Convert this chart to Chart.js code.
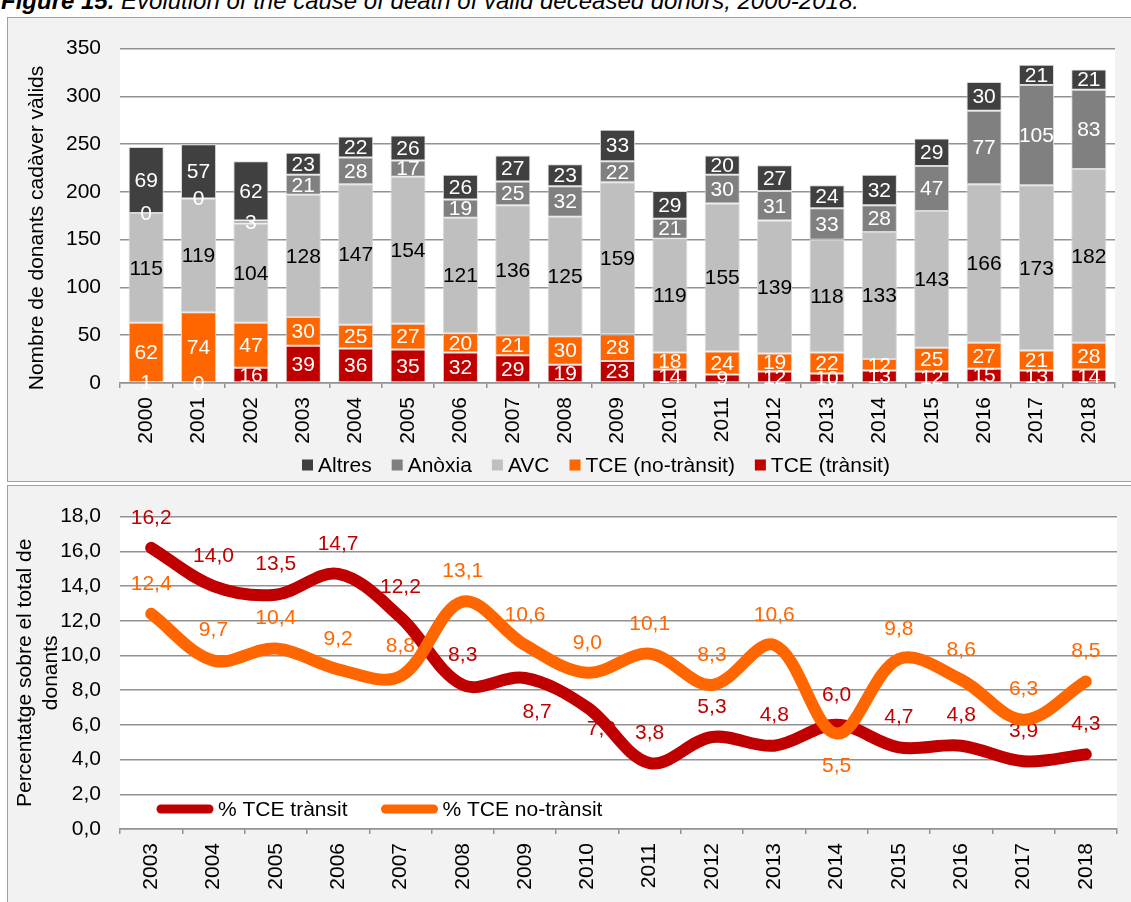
<!DOCTYPE html>
<html>
<head>
<meta charset="utf-8">
<script src="https://cdn.jsdelivr.net/npm/chart.js@4.4.1/dist/chart.umd.min.js"></script>
<style>
html,body{margin:0;padding:0;width:1131px;height:902px;overflow:hidden;background:#fff;font-family:'Liberation Sans',Arial,sans-serif;}
#title{position:absolute;left:1px;top:-11px;font-size:24px;line-height:24px;font-style:italic;white-space:nowrap;color:#000;}
.frame{position:absolute;left:7px;width:1200px;border:1.5px solid #a0a0a0;background:#f2f2f2;box-sizing:border-box;}
canvas{position:absolute;left:0;}
</style>
</head>
<body>
<div id="title"><b>Figure 15.</b> Evolution of the cause of death of valid deceased donors, 2000-2018.</div>
<div class="frame" style="top:17px;height:465px"></div>
<div class="frame" style="top:485px;height:430px"></div>
<canvas id="c1" width="1131" height="465" style="top:17px"></canvas>
<canvas id="c2" width="1131" height="417" style="top:485px"></canvas>
<script>
// ---- data: bar chart ----
const years = ['2000','2001','2002','2003','2004','2005','2006','2007','2008','2009','2010','2011','2012','2013','2014','2015','2016','2017','2018'];
const tceTransit   = [1, 0, 16, 39, 36, 35, 32, 29, 19, 23, 14, 9, 12, 10, 13, 12, 15, 13, 14];
const tceNoTransit = [62, 74, 47, 30, 25, 27, 20, 21, 30, 28, 18, 24, 19, 22, 12, 25, 27, 21, 28];
const avc          = [115, 119, 104, 128, 147, 154, 121, 136, 125, 159, 119, 155, 139, 118, 133, 143, 166, 173, 182];
const anoxia       = [0, 0, 3, 21, 28, 17, 19, 25, 32, 22, 21, 30, 31, 33, 28, 47, 77, 105, 83];
const altres       = [69, 57, 62, 23, 22, 26, 26, 27, 23, 33, 29, 20, 27, 24, 32, 29, 30, 21, 21];

// ---- data: line chart ----
const lineYears = ['2003','2004','2005','2006','2007','2008','2009','2010','2011','2012','2013','2014','2015','2016','2017','2018'];
const pctTransit   = [16.2, 14.0, 13.5, 14.7, 12.2, 8.3, 8.7, 7.0, 3.8, 5.3, 4.8, 6.0, 4.7, 4.8, 3.9, 4.3];
const pctNoTransit = [12.4, 9.7, 10.4, 9.2, 8.8, 13.1, 10.6, 9.0, 10.1, 8.3, 10.6, 5.5, 9.8, 8.6, 6.3, 8.5];

const FONT = "'Liberation Sans', Arial, sans-serif";
const FS = 21;
const GRID = '#929292';
Chart.defaults.font.family = FONT;
Chart.defaults.color = '#000';

const plotBg = {
  id: 'plotBg',
  beforeDraw(chart) {
    const {ctx, chartArea: a} = chart;
    ctx.save();
    ctx.fillStyle = '#ffffff';
    ctx.fillRect(a.left, a.top, a.right - a.left, a.bottom - a.top);
    ctx.restore();
  }
};

const barLabels = {
  id: 'barLabels',
  afterDatasetsDraw(chart) {
    const ctx = chart.ctx;
    ctx.save();
    ctx.font = FS + 'px ' + FONT;
    ctx.textAlign = 'center';
    ctx.textBaseline = 'middle';
    chart.data.datasets.forEach((ds, i) => {
      const meta = chart.getDatasetMeta(i);
      meta.data.forEach((el, j) => {
        ctx.fillStyle = ds.labelColor;
        ctx.fillText(String(ds.data[j]), el.x, (el.y + el.base) / 2 + 1);
      });
    });
    ctx.restore();
  }
};

const barLegend = {
  id: 'barLegend',
  afterDraw(chart) {
    const ctx = chart.ctx;
    ctx.save();
    ctx.font = FS + 'px ' + FONT;
    ctx.textBaseline = 'middle';
    let x = 302;
    const y = 448;
    [...chart.data.datasets].reverse().forEach(ds => {
      ctx.fillStyle = ds.backgroundColor;
      ctx.fillRect(x, y - 5.5, 11, 11);
      x += 16;
      ctx.fillStyle = '#000';
      ctx.fillText(ds.label, x, y + 1);
      x += ctx.measureText(ds.label).width + 20;
    });
    ctx.restore();
  }
};

const barYTitle = {
  id: 'barYTitle',
  afterDraw(chart) {
    const ctx = chart.ctx;
    ctx.save();
    ctx.font = FS + 'px ' + FONT;
    ctx.fillStyle = '#000';
    ctx.textAlign = 'center';
    ctx.textBaseline = 'middle';
    ctx.translate(37, 211);
    ctx.rotate(-Math.PI / 2);
    ctx.fillText('Nombre de donants cadàver vàlids', 0, 0);
    ctx.restore();
  }
};

new Chart(document.getElementById('c1'), {
  type: 'bar',
  data: {
    labels: years,
    datasets: [
      {label: 'TCE (trànsit)', data: tceTransit, backgroundColor: '#c00000', labelColor: '#ffffff'},
      {label: 'TCE (no-trànsit)', data: tceNoTransit, backgroundColor: '#ff6600', labelColor: '#ffffff'},
      {label: 'AVC', data: avc, backgroundColor: '#bfbfbf', labelColor: '#000000'},
      {label: 'Anòxia', data: anoxia, backgroundColor: '#808080', labelColor: '#ffffff'},
      {label: 'Altres', data: altres, backgroundColor: '#404040', labelColor: '#ffffff'}
    ].map(d => Object.assign(d, {borderColor: '#d9d9d9', borderWidth: 1, borderSkipped: false, barPercentage: 0.67, categoryPercentage: 1}))
  },
  options: {
    responsive: false,
    animation: false,
    devicePixelRatio: 1,
    layout: {padding: {left: 0, right: 16, top: 18, bottom: 0}},
    plugins: {legend: {display: false}, tooltip: {enabled: false}},
    scales: {
      x: {
        stacked: true,
        offset: true,
        grid: {offset: true, drawOnChartArea: false, drawTicks: true, tickLength: 5, color: GRID, lineWidth: 1.5},
        border: {color: GRID, width: 1.5},
        ticks: {font: {size: FS}, color: '#000', maxRotation: 90, minRotation: 90, padding: 9, autoSkip: false},
        afterFit(s) { s.height = 99; }
      },
      y: {
        stacked: true,
        min: 0, max: 350,
        ticks: {stepSize: 50, font: {size: FS}, color: '#000', padding: 19},
        grid: {color: GRID, lineWidth: 1.5, drawTicks: false},
        border: {display: false},
        afterFit(s) { s.width = 120; }
      }
    }
  },
  plugins: [plotBg, barLabels, barLegend, barYTitle]
});

// ---- line chart ----
const fmt = v => v.toFixed(1).replace('.', ',');

const lineLabels = {
  id: 'lineLabels',
  beforeDatasetsDraw(chart) {
    const ctx = chart.ctx;
    ctx.save();
    ctx.font = FS + 'px ' + FONT;
    ctx.textAlign = 'center';
    ctx.textBaseline = 'middle';
    chart.data.datasets.forEach((ds, i) => {
      const meta = chart.getDatasetMeta(i);
      meta.data.forEach((pt, j) => {
        const off = (ds.labelOffsets && ds.labelOffsets[j]) || [0, -30];
        ctx.fillStyle = ds.borderColor;
        ctx.fillText(fmt(ds.data[j]), pt.x + off[0], pt.y + off[1]);
      });
    });
    ctx.restore();
  }
};

const lineLegend = {
  id: 'lineLegend',
  afterDraw(chart) {
    const ctx = chart.ctx;
    ctx.save();
    ctx.font = FS + 'px ' + FONT;
    ctx.textBaseline = 'middle';
    let x = 161;
    const y = 324;
    chart.data.datasets.forEach(ds => {
      ctx.strokeStyle = ds.borderColor;
      ctx.lineWidth = 9;
      ctx.lineCap = 'round';
      ctx.beginPath();
      ctx.moveTo(x, y);
      ctx.lineTo(x + 48, y);
      ctx.stroke();
      x += 57;
      ctx.fillStyle = '#000';
      ctx.fillText(ds.label, x, y + 1);
      x += ctx.measureText(ds.label).width + 38;
    });
    ctx.restore();
  }
};

new Chart(document.getElementById('c2'), {
  type: 'line',
  data: {
    labels: lineYears,
    datasets: [
      {label: '% TCE trànsit', data: pctTransit, borderColor: '#c00000', order: 1, labelOffsets: {6: [12, 34], 7: [14, 22]}},
      {label: '% TCE no-trànsit', data: pctNoTransit, borderColor: '#ff6600', order: 0, labelOffsets: {11: [0, 33]}}
    ].map(d => Object.assign(d, {borderWidth: 12, tension: 0.35, pointRadius: 0, fill: false, borderCapStyle: 'round', borderJoinStyle: 'round'}))
  },
  options: {
    responsive: false,
    animation: false,
    devicePixelRatio: 1,
    layout: {padding: {left: 0, right: 14, top: 27, bottom: 0}},
    plugins: {legend: {display: false}, tooltip: {enabled: false}},
    scales: {
      x: {
        offset: true,
        grid: {offset: true, drawOnChartArea: false, drawTicks: true, tickLength: 5, color: GRID, lineWidth: 1.5},
        border: {color: GRID, width: 1.5},
        ticks: {font: {size: FS}, color: '#000', maxRotation: 90, minRotation: 90, padding: 9, autoSkip: false},
        afterFit(s) { s.height = 73; }
      },
      y: {
        min: 0, max: 18,
        ticks: {stepSize: 2, font: {size: FS}, color: '#000', padding: 19, callback: v => fmt(v)},
        grid: {color: GRID, lineWidth: 1.5, drawTicks: false},
        border: {display: false},
        title: {display: true, text: ['Percentatge sobre el total de', 'donants'], font: {size: FS}, color: '#000', padding: {top: 13, bottom: 0}},
        afterFit(s) { s.width = 120; }
      }
    }
  },
  plugins: [plotBg, lineLabels, lineLegend]
});
</script>
</body>
</html>
